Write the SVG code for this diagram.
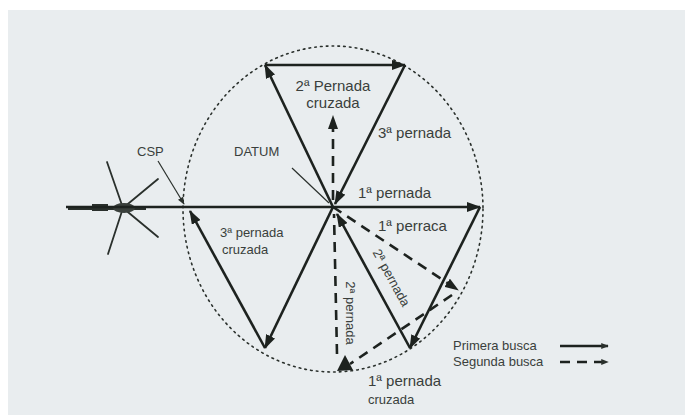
<svg xmlns="http://www.w3.org/2000/svg" width="685" height="415" viewBox="0 0 685 415">
  <style>
    .bg { fill: #e9edef; }
    .leg { fill: none; stroke: #1d221f; stroke-width: 2.6; }
    .dash { fill: none; stroke: #1d221f; stroke-width: 2.6; stroke-dasharray: 10 7; }
    .dot { fill: none; stroke: #2a302c; stroke-width: 1.6; stroke-dasharray: 1.6 4.2; stroke-linecap: round; }
    .thin { fill: none; stroke: #2a302c; stroke-width: 1.2; }
    .heli { fill: none; stroke: #2a302c; stroke-width: 1.8; stroke-linecap: round; }
    text { font-family: "Liberation Sans", Arial, sans-serif; fill: #3a3f3c; }
    .lbl { font-size: 15px; }
    .sm { font-size: 13px; }
  </style>
  <defs>
    <marker id="arrow" viewBox="0 0 14 10" refX="13" refY="5" markerWidth="14" markerHeight="10" markerUnits="userSpaceOnUse" orient="auto">
      <path d="M0,0 L14,5 L0,10 z" fill="#1d221f"/>
    </marker>
    <marker id="arrowSm" viewBox="0 0 10 8" refX="9" refY="4" markerWidth="8" markerHeight="6" markerUnits="userSpaceOnUse" orient="auto">
      <path d="M0,0 L10,4 L0,8 z" fill="#2a302c"/>
    </marker>
  </defs>

  <!-- scanned page: white margin on top and left -->
  <rect width="685" height="415" fill="#ffffff"/>
  <rect class="bg" x="8" y="10" width="677" height="405"/>

  <!-- search area boundary -->
  <ellipse id="area" class="dot" cx="333" cy="209" rx="150" ry="163"/>

  <!-- helicopter approaching the commence search point -->
  <g id="helicopter">
    <line class="heli" x1="123" y1="208" x2="107" y2="162"/>
    <line class="heli" x1="123" y1="208" x2="158" y2="179"/>
    <line class="heli" x1="123" y1="208" x2="158" y2="237"/>
    <line class="heli" x1="123" y1="208" x2="108" y2="254"/>
    <path d="M68,206 H146 V210 H68 z" fill="#2a302c"/>
    <ellipse cx="124" cy="208" rx="11" ry="5" fill="#3a403c"/>
    <path d="M92,204 H108 V211 H92 z" fill="#2a302c"/>
  </g>

  <g id="connectors">
    <!-- first search (solid) -->
    <line class="leg" x1="66" y1="207" x2="480" y2="207" marker-end="url(#arrow)"/>
    <line class="leg" x1="480" y1="207" x2="410" y2="348" marker-end="url(#arrow)"/>
    <line class="leg" x1="410" y1="348" x2="337" y2="214" marker-end="url(#arrow)"/>
    <line class="leg" x1="333" y1="207" x2="265" y2="65" marker-end="url(#arrow)"/>
    <line class="leg" x1="265" y1="65" x2="405" y2="65" marker-end="url(#arrow)"/>
    <line class="leg" x1="405" y1="65" x2="335" y2="204" marker-end="url(#arrow)"/>
    <line class="leg" x1="333" y1="207" x2="265" y2="348" marker-end="url(#arrow)"/>
    <line class="leg" x1="265" y1="348" x2="190" y2="211" marker-end="url(#arrow)"/>

    <!-- second search (dashed) -->
    <line class="dash" x1="333" y1="207" x2="458" y2="290" marker-end="url(#arrow)"/>
    <line class="dash" x1="452" y1="295" x2="350" y2="364"/>
    <polygon points="345,355 337,371 353,370" fill="#1d221f"/>
    <line class="dash" x1="337" y1="354" x2="334" y2="214"/>
    <line class="dash" x1="333" y1="200" x2="333" y2="116" marker-end="url(#arrow)"/>

    <!-- pointers -->
    <line class="thin" x1="158" y1="161" x2="184" y2="204" marker-end="url(#arrowSm)"/>
    <line class="thin" x1="292" y1="168" x2="329" y2="203"/>
  </g>

  <g id="labels">
    <text id="csp" class="sm" x="137" y="156">CSP</text>
    <text id="datum" class="sm" x="234" y="156">DATUM</text>
    <text class="lbl" x="333" y="91" text-anchor="middle">2ª Pernada</text>
    <text class="lbl" x="333" y="108" text-anchor="middle">cruzada</text>
    <text class="lbl" x="378" y="138">3ª pernada</text>
    <text class="lbl" x="358" y="198">1ª pernada</text>
    <text class="lbl" x="378" y="231">1ª perraca</text>
    <text class="sm" x="391" y="282" text-anchor="middle" transform="rotate(61 391 278)">2ª pernada</text>
    <text class="sm" x="350" y="317" text-anchor="middle" transform="rotate(90 350 313)">2ª pernada</text>
    <text class="sm" x="220" y="237">3ª pernada</text>
    <text class="sm" x="222" y="254">cruzada</text>
    <text class="lbl" x="368" y="386">1ª pernada</text>
    <text class="sm" x="368" y="404">cruzada</text>
  </g>

  <g id="legend">
    <text class="sm" x="453" y="350">Primera busca</text>
    <text class="sm" x="453" y="366">Segunda busca</text>
    <line class="leg" x1="560" y1="346" x2="608" y2="346" stroke-width="1.6" marker-end="url(#arrowSm)"/>
    <line class="dash" x1="560" y1="362" x2="608" y2="362" stroke-width="1.6" stroke-dasharray="5 4" marker-end="url(#arrowSm)"/>
  </g>
</svg>
